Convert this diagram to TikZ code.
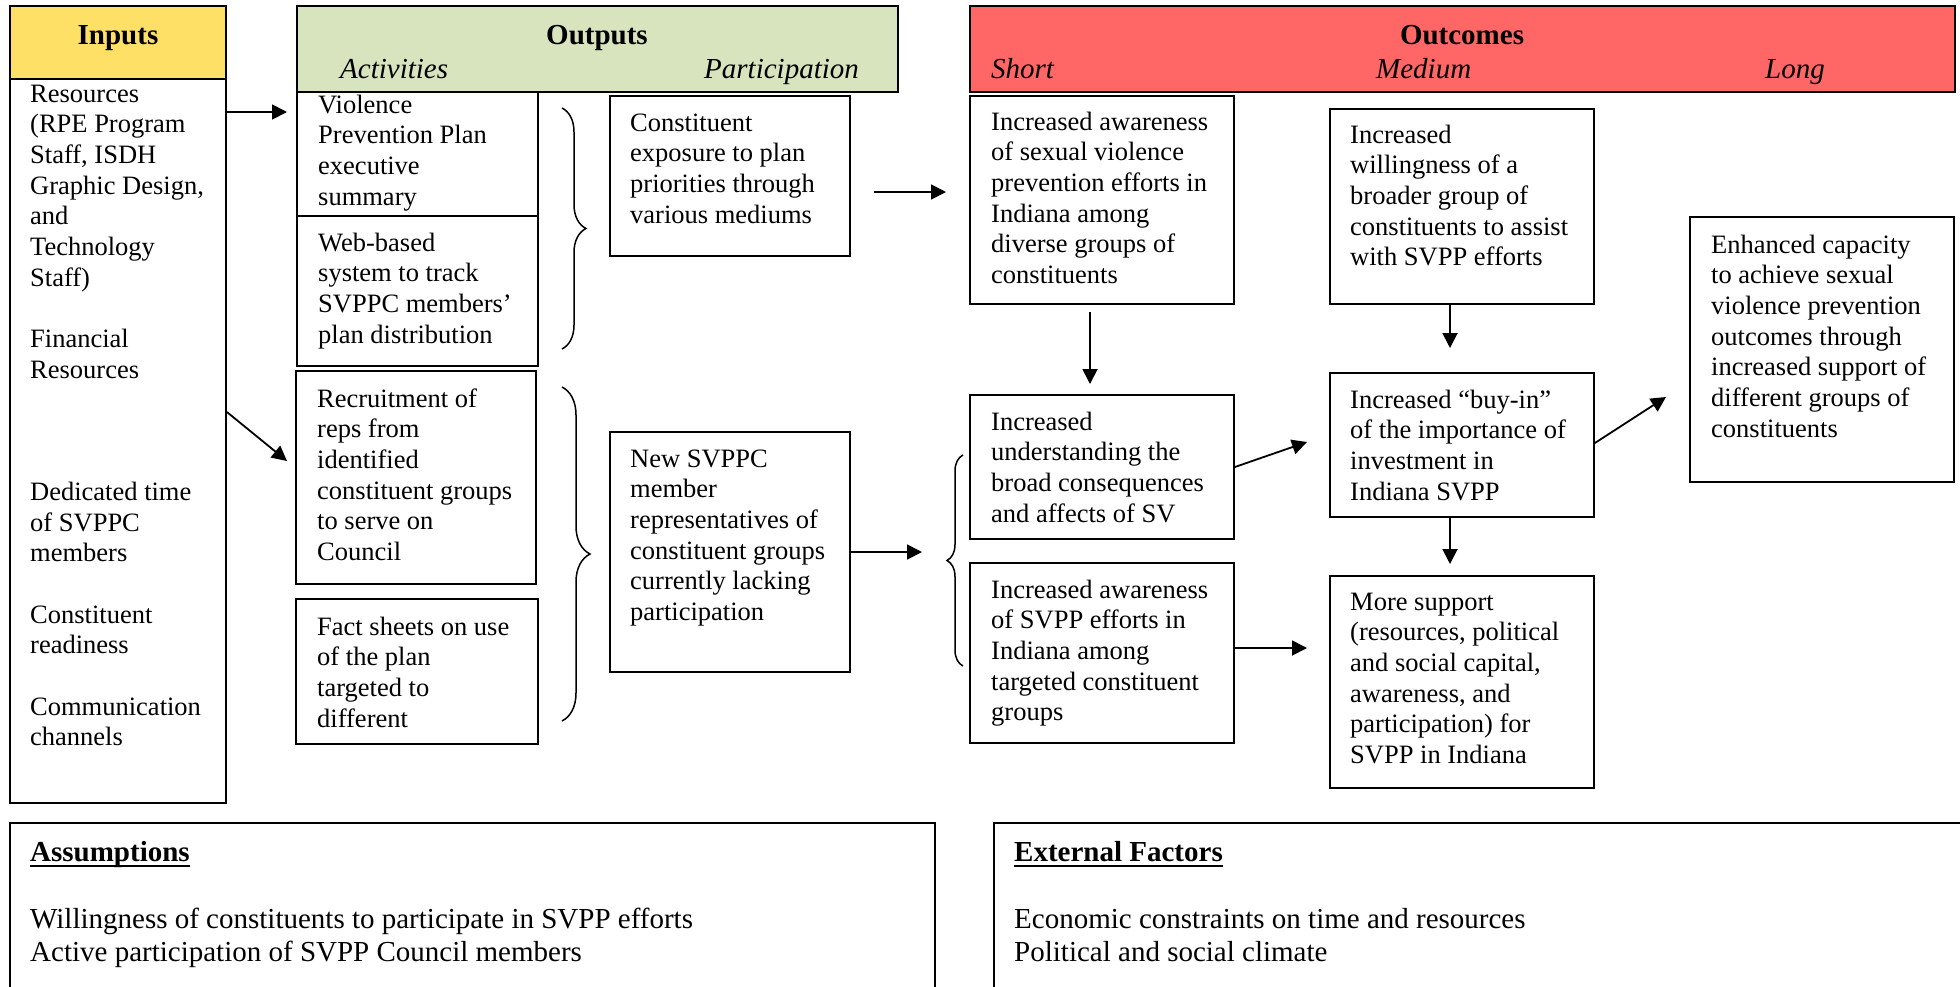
\documentclass[tikz,border=0pt]{standalone}
\usepackage{fontspec}
\setmainfont{Liberation Serif}
\usetikzlibrary{arrows.meta,decorations.pathreplacing,fit}
\definecolor{inyellow}{HTML}{FFE066}
\definecolor{outgreen}{HTML}{D7E4BD}
\definecolor{ocred}{HTML}{FF6666}

\newcommand\boxfont{\fontsize{26.5}{30.65}\selectfont}
\newcommand\headfont{\fontsize{29}{34}\selectfont}
\newcommand\botfont{\fontsize{29}{33}\selectfont}
% text block: name, x, first baseline, lines
\newcommand\tx[4]{\node[txt] (#1) at (#2,#3-21.455) {\strut #4};}

\begin{document}
\begin{tikzpicture}[x=1pt,y=-1pt,
  box/.style={draw, line width=1.8pt, inner sep=0pt},
  hdr/.style={box, line width=2.2pt},
  txt/.style={anchor=north west, inner sep=0pt, align=left, font=\boxfont},
  ttl/.style={inner sep=0pt, font=\headfont\bfseries, anchor=base},
  sub/.style={inner sep=0pt, font=\headfont\itshape, anchor=base west},
  arr/.style={line width=1.8pt, -{Triangle[length=15pt,width=15pt]}},
  brc/.style={decorate, line width=1.5pt},
]
\fill[white] (0,0) rectangle (1960,986);
\useasboundingbox (0,0) rectangle (1960,986);
\clip (0,0) rectangle (1960,986);

% ---------- Inputs ----------
\node[hdr, fill=inyellow, fit={(10,6)(226,79)}] (inH) {};
\node[ttl] (inHt) at (118,44.5) {Inputs};
\node[box, fit={(10,79)(226,803)}] (inB) {};
\tx{inBt}{30}{102}{Resources\\(RPE Program\\Staff, ISDH\\Graphic Design,\\and\\Technology\\Staff)\\[30.65pt]Financial\\Resources\\[91.95pt]Dedicated time\\of SVPPC\\members\\[30.65pt]Constituent\\readiness\\[30.65pt]Communication\\channels}

% ---------- Outputs ----------
\node[hdr, fill=outgreen, fit={(297,6)(898,92)}] (outH) {};
\node[ttl] (outHt) at (597,44.5) {Outputs};
\node[sub] (actT) at (340,78) {Activities};
\node[sub] (parT) at (704,78) {Participation};

\node[box, fit={(297,92)(538,216)}] (act1) {};
\tx{act1t}{318}{113}{Violence\\Prevention Plan\\executive\\summary}
\node[box, fit={(297,216)(538,366)}] (act2) {};
\tx{act2t}{318}{251}{Web-based\\system to track\\SVPPC members’\\plan distribution}
\node[box, fit={(296,371)(536,584)}] (rec) {};
\tx{rect}{317}{407}{Recruitment of\\reps from\\identified\\constituent groups\\to serve on\\Council}
\node[box, fit={(296,599)(538,744)}] (fact) {};
\tx{factt}{317}{635}{Fact sheets on use\\of the plan\\targeted to\\different}
\node[box, fit={(610,96)(850,256)}] (exp) {};
\tx{expt}{630}{131}{Constituent\\exposure to plan\\priorities through\\various mediums}
\node[box, fit={(610,432)(850,672)}] (newm) {};
\tx{newmt}{630}{467}{New SVPPC\\member\\representatives of\\constituent groups\\currently lacking\\participation}

% ---------- Outcomes ----------
\node[hdr, fill=ocred, fit={(970,6)(1955,92)}] (ocH) {};
\node[ttl] (ocHt) at (1462,44.5) {Outcomes};
\node[sub] (shT) at (991,78) {Short};
\node[sub] (mdT) at (1376,78) {Medium};
\node[sub] (lgT) at (1765,78) {Long};

\node[box, fit={(970,96)(1234,304)}] (s1) {};
\tx{s1t}{991}{130}{Increased awareness\\of sexual violence\\prevention efforts in\\Indiana among\\diverse groups of\\constituents}
\node[box, fit={(970,395)(1234,539)}] (s2) {};
\tx{s2t}{991}{430}{Increased\\understanding the\\broad consequences\\and affects of SV}
\node[box, fit={(970,563)(1234,743)}] (s3) {};
\tx{s3t}{991}{598}{Increased awareness\\of SVPP efforts in\\Indiana among\\targeted constituent\\groups}
\node[box, fit={(1330,109)(1594,304)}] (m1) {};
\tx{m1t}{1350}{143}{Increased\\willingness of a\\broader group of\\constituents to assist\\with SVPP efforts}
\node[box, fit={(1330,373)(1594,517)}] (m2) {};
\tx{m2t}{1350}{408}{Increased “buy-in”\\of the importance of\\investment in\\Indiana SVPP}
\node[box, fit={(1330,576)(1594,788)}] (m3) {};
\tx{m3t}{1350}{610}{More support\\(resources, political\\and social capital,\\awareness, and\\participation) for\\SVPP in Indiana}
\node[box, fit={(1690,217)(1954,482)}] (L1) {};
\tx{L1t}{1711}{253}{Enhanced capacity\\to achieve sexual\\violence prevention\\outcomes through\\increased support of\\different groups of\\constituents}

% ---------- Braces ----------
\draw[brc, decoration={brace, amplitude=24pt}] (562,108) -- (562,349);
\draw[brc, decoration={brace, amplitude=28pt}] (562,387) -- (562,721);
\draw[brc, decoration={brace, amplitude=16pt}] (963,666) -- (963,455);

% ---------- Arrows ----------
\coordinate (a1) at (287,112);
\coordinate (a2) at (287,461);
\coordinate (a3s) at (874,192);
\coordinate (a3) at (946,192);
\coordinate (a4) at (922,552);
\coordinate (a5s) at (1090,312);
\coordinate (a5) at (1090,384);
\coordinate (a6) at (1450,348);
\coordinate (a7) at (1307,442);
\coordinate (a8) at (1666,397);
\coordinate (a9) at (1450,564);
\coordinate (a10) at (1307,648);
\draw[arr] (inB.east |- a1) -- (a1);
\draw[arr] (inB.east |- 0,412) -- (a2);
\draw[arr] (a3s) -- (a3);
\draw[arr] (newm.east |- a4) -- (a4);
\draw[arr] (a5s) -- (a5);
\draw[arr] (m1.south -| a6) -- (a6);
\draw[arr] (s2.east |- 0,467) -- (a7);
\draw[arr] (m2.east |- 0,443) -- (a8);
\draw[arr] (m2.south -| a9) -- (a9);
\draw[arr] (s3.east |- a10) -- (a10);

% ---------- Assumptions / External factors ----------
\node[box, fit={(10,823)(935,1000)}] (asm) {};
\node[anchor=base west, inner sep=0pt, font=\headfont\bfseries] (asmT) at (30,861) {Assumptions};
\draw[line width=2.5pt] ([yshift=-5pt]asmT.base west) -- ([yshift=-5pt]asmT.base east);
\node[anchor=north west, inner sep=0pt, align=left, font=\botfont] (asmB) at (30,928-23.1)
  {\strut Willingness of constituents to participate in SVPP efforts\\Active participation of SVPP Council members};

\node[box, fit={(994,823)(1970,1000)}] (ext) {};
\node[anchor=base west, inner sep=0pt, font=\headfont\bfseries] (extT) at (1014,861) {External Factors};
\draw[line width=2.5pt] ([yshift=-5pt]extT.base west) -- ([yshift=-5pt]extT.base east);
\node[anchor=north west, inner sep=0pt, align=left, font=\botfont] (extB) at (1014,928-23.1)
  {\strut Economic constraints on time and resources\\Political and social climate};
\end{tikzpicture}
\end{document}
